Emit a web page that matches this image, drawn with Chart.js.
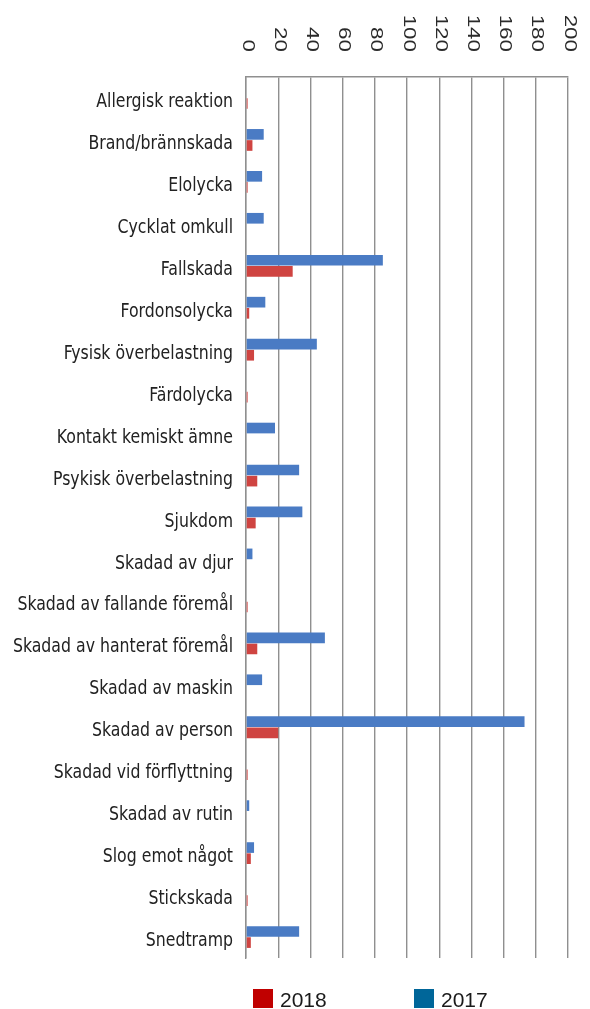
<!DOCTYPE html>
<html>
<head>
<meta charset="utf-8">
<script src="https://cdn.jsdelivr.net/npm/chart.js@4"></script>
<style>
html,body{margin:0;padding:0;background:#fff;}
canvas{display:block;}
</style>
</head>
<body>
<canvas id="c" width="590" height="1009"></canvas>
<script>
const categories = [
  "Allergisk reaktion", "Brand/brännskada", "Elolycka", "Cycklat omkull", "Fallskada",
  "Fordonsolycka", "Fysisk överbelastning", "Färdolycka", "Kontakt kemiskt ämne",
  "Psykisk överbelastning", "Sjukdom", "Skadad av djur", "Skadad av fallande föremål",
  "Skadad av hanterat föremål", "Skadad av maskin", "Skadad av person",
  "Skadad vid förflyttning", "Skadad av rutin", "Slog emot något", "Stickskada", "Snedtramp"
];
const values2017 = [0, 11, 10, 11, 85, 12, 44, 0, 18, 33, 35, 4, 0, 49, 10, 173, 0, 2, 5, 0, 33];
const values2018 = [1, 4, 1, 0, 29, 2, 5, 1, 0, 7, 6, 0, 1, 7, 0, 20, 1, 0, 3, 1, 3];
const tickValues = [0, 20, 40, 60, 80, 100, 120, 140, 160, 180, 200];
const seriesNames = ["2017", "2018"];

const barBlue = "#4a7bc4";
const barRed = "#cf4441";
const legendItems = [
  { label: "2018", color: "#c00000", x: 253 },
  { label: "2017", color: "#006699", x: 414 }
];

const topTicksPlugin = {
  id: "topTicks",
  afterDraw(chart) {
    const ctx = chart.ctx;
    const xs = chart.scales.x;
    ctx.save();
    ctx.fillStyle = "#2a2a2a";
    ctx.font = "16px 'Liberation Sans', Arial, sans-serif";
    ctx.textAlign = "right";
    ctx.textBaseline = "middle";
    tickValues.forEach(v => {
      const px = xs.getPixelForValue(v);
      ctx.save();
      ctx.translate(px + 1, 52);
      ctx.rotate(Math.PI / 2);
      ctx.scale(1.4, 1);
      ctx.fillText(String(v), 0, 0);
      ctx.restore();
    });
    ctx.restore();
  }
};

const categoryLabelsPlugin = {
  id: "categoryLabels",
  afterDraw(chart) {
    const ctx = chart.ctx;
    const ys = chart.scales.y;
    ctx.save();
    ctx.fillStyle = "#222";
    ctx.font = "17.5px 'DejaVu Sans Condensed', 'Liberation Sans Narrow', Arial, sans-serif";
    ctx.textAlign = "right";
    ctx.textBaseline = "middle";
    categories.forEach((lab, i) => {
      const py = ys.getPixelForValue(i);
      ctx.save();
      ctx.translate(ys.right - 13, py + 4);
      ctx.scale(1, 1.12);
      ctx.fillText(lab, 0, 0);
      ctx.restore();
    });
    ctx.restore();
  }
};

const legendPlugin = {
  id: "customLegend",
  afterDraw(chart) {
    const ctx = chart.ctx;
    ctx.save();
    ctx.font = "21px 'Liberation Sans', Arial, sans-serif";
    ctx.textBaseline = "alphabetic";
    ctx.textAlign = "left";
    legendItems.forEach(it => {
      ctx.fillStyle = it.color;
      ctx.fillRect(it.x, 989, 20, 19);
      ctx.fillStyle = "#1a1a1a";
      ctx.fillText(it.label, it.x + 27, 1007);
    });
    ctx.restore();
  }
};

new Chart(document.getElementById("c"), {
  type: "bar",
  data: {
    labels: categories,
    datasets: [
      { label: seriesNames[0], data: values2017, backgroundColor: barBlue, borderWidth: 0,
        categoryPercentage: 0.53, barPercentage: 0.96 },
      { label: seriesNames[1], data: values2018, backgroundColor: barRed, borderWidth: 0,
        categoryPercentage: 0.53, barPercentage: 0.96 }
    ]
  },
  options: {
    indexAxis: "y",
    responsive: false,
    animation: false,
    layout: { padding: { top: 77, right: 22, bottom: 51, left: 0 } },
    plugins: {
      legend: { display: false },
      tooltip: { enabled: false }
    },
    scales: {
      x: {
        position: "top",
        min: 0,
        max: 200,
        afterBuildTicks: s => { s.ticks = tickValues.map(v => ({ value: v })); },
        ticks: { display: false },
        grid: { color: "#8f8f8f", lineWidth: 1.4, drawTicks: false },
        border: { display: true, color: "#8f8f8f", width: 1.4 }
      },
      y: {
        afterFit: s => { s.width = 246; },
        ticks: { display: false },
        grid: { display: false, drawTicks: false },
        border: { display: true, color: "#8f8f8f", width: 1.4 }
      }
    }
  },
  plugins: [topTicksPlugin, categoryLabelsPlugin, legendPlugin]
});
</script>
</body>
</html>
